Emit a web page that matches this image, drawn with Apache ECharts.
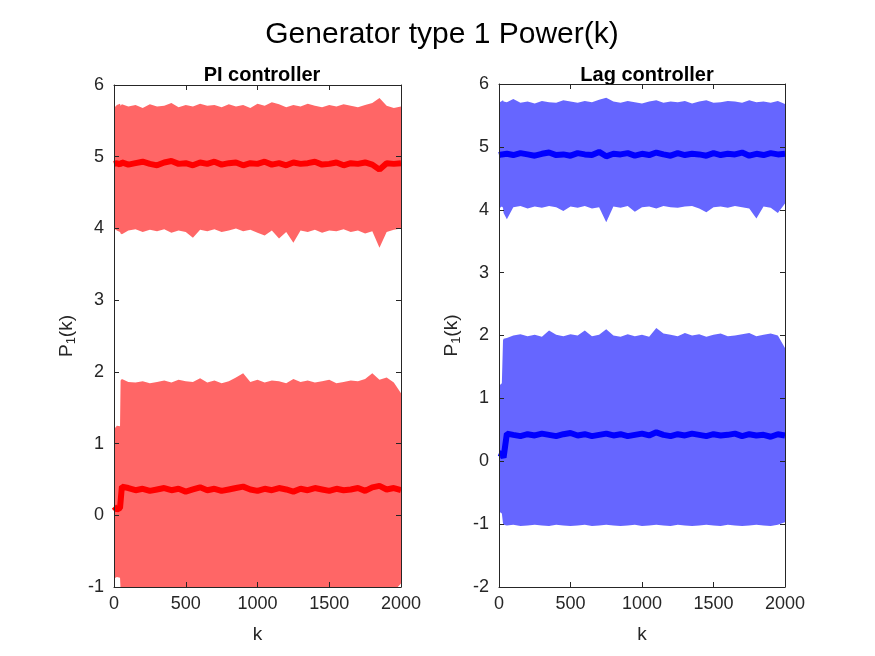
<!DOCTYPE html>
<html>
<head>
<meta charset="utf-8">
<style>
  html, body { margin: 0; padding: 0; background: #fff; }
  #main { width: 875px; height: 656px; }
</style>
<script src="https://cdn.jsdelivr.net/npm/echarts@6/dist/echarts.min.js"></script>
</head>
<body>
<div id="main"></div>
<script>
// sample positions (k) used for envelopes and mean lines
var kPI  = [0, 20, 42, 46, 55, 100, 150, 200, 250, 300, 350, 400, 450, 500, 550, 600, 650, 700, 750, 800, 850, 900, 950, 1000, 1050, 1100, 1150, 1200, 1250, 1300, 1350, 1400, 1450, 1500, 1550, 1600, 1650, 1700, 1750, 1800, 1850, 1900, 1950, 2000];
var kLag = [0, 20, 28, 32, 55, 100, 150, 200, 250, 300, 350, 400, 450, 500, 550, 600, 650, 700, 750, 800, 850, 900, 950, 1000, 1050, 1100, 1150, 1200, 1250, 1300, 1350, 1400, 1450, 1500, 1550, 1600, 1650, 1700, 1750, 1800, 1850, 1900, 1950, 2000];

// PI controller: envelope of the noisy signals + mean lines
var piUpperHi = [5.68, 5.72, 5.74, 5.71, 5.73, 5.70, 5.72, 5.68, 5.73, 5.70, 5.71, 5.75, 5.69, 5.72, 5.70, 5.74, 5.71, 5.72, 5.69, 5.73, 5.70, 5.72, 5.68, 5.74, 5.71, 5.76, 5.73, 5.69, 5.72, 5.70, 5.74, 5.71, 5.69, 5.72, 5.70, 5.73, 5.71, 5.69, 5.72, 5.75, 5.82, 5.71, 5.68, 5.70];
var piUpperLo = [4.00, 3.97, 3.95, 3.93, 3.92, 3.97, 3.99, 3.95, 3.98, 3.96, 3.99, 3.94, 3.97, 3.95, 3.87, 3.98, 3.96, 3.99, 3.95, 3.97, 4.00, 3.96, 3.98, 3.94, 3.90, 3.97, 3.86, 3.95, 3.80, 3.97, 3.95, 3.98, 3.94, 3.97, 3.96, 3.99, 3.95, 3.97, 3.93, 3.96, 3.73, 3.95, 3.98, 4.00];
var piUpperMean = [4.90, 4.91, 4.89, 4.90, 4.92, 4.89, 4.91, 4.93, 4.90, 4.88, 4.92, 4.94, 4.90, 4.91, 4.88, 4.92, 4.90, 4.93, 4.89, 4.91, 4.92, 4.88, 4.91, 4.90, 4.93, 4.89, 4.91, 4.88, 4.92, 4.90, 4.91, 4.93, 4.89, 4.90, 4.92, 4.88, 4.91, 4.90, 4.92, 4.89, 4.82, 4.91, 4.90, 4.91];
var piLowerHi = [1.20, 1.25, 1.24, 1.88, 1.90, 1.86, 1.85, 1.87, 1.84, 1.86, 1.88, 1.85, 1.89, 1.87, 1.86, 1.91, 1.85, 1.88, 1.84, 1.87, 1.92, 1.98, 1.86, 1.89, 1.85, 1.88, 1.87, 1.84, 1.90, 1.86, 1.88, 1.85, 1.87, 1.89, 1.84, 1.86, 1.88, 1.87, 1.90, 1.98, 1.89, 1.92, 1.85, 1.70];
var piLowerLo = [-0.88, -0.86, -0.87, -1.04, -1.05, -1.03, -1.06, -1.04, -1.05, -1.03, -1.05, -1.06, -1.04, -1.03, -1.05, -1.04, -1.06, -1.05, -1.03, -1.04, -1.06, -1.05, -1.04, -1.03, -1.05, -1.06, -1.04, -1.05, -1.03, -1.04, -1.06, -1.05, -1.04, -1.03, -1.05, -1.04, -1.06, -1.05, -1.04, -1.03, -1.05, -1.04, -1.06, -0.95];
var piLowerMean = [0.12, 0.08, 0.10, 0.11, 0.40, 0.38, 0.35, 0.37, 0.34, 0.36, 0.38, 0.35, 0.37, 0.33, 0.36, 0.39, 0.35, 0.37, 0.34, 0.36, 0.38, 0.40, 0.36, 0.34, 0.37, 0.35, 0.38, 0.36, 0.33, 0.37, 0.35, 0.38, 0.36, 0.34, 0.37, 0.35, 0.36, 0.38, 0.34, 0.39, 0.41, 0.36, 0.38, 0.35];

// Lag controller
var lagUpperHi = [5.70, 5.73, 5.74, 5.72, 5.71, 5.76, 5.70, 5.72, 5.69, 5.73, 5.71, 5.70, 5.74, 5.72, 5.70, 5.73, 5.71, 5.75, 5.78, 5.72, 5.70, 5.73, 5.71, 5.69, 5.72, 5.74, 5.70, 5.72, 5.71, 5.73, 5.69, 5.72, 5.74, 5.70, 5.71, 5.73, 5.72, 5.70, 5.74, 5.71, 5.72, 5.70, 5.73, 5.68];
var lagUpperLo = [4.02, 4.05, 4.03, 3.95, 3.85, 4.04, 4.06, 4.02, 4.05, 4.03, 4.06, 4.04, 3.98, 4.05, 4.03, 4.06, 4.02, 4.04, 3.80, 4.05, 4.03, 4.06, 3.97, 4.04, 4.05, 4.02, 4.06, 4.04, 4.03, 4.05, 4.06, 4.02, 3.96, 4.04, 4.05, 4.03, 4.06, 4.04, 4.02, 3.86, 4.05, 4.03, 3.95, 4.10];
var lagUpperMean = [4.87, 4.88, 4.90, 4.86, 4.89, 4.87, 4.90, 4.88, 4.86, 4.89, 4.91, 4.87, 4.88, 4.86, 4.90, 4.88, 4.87, 4.92, 4.85, 4.89, 4.88, 4.90, 4.86, 4.89, 4.87, 4.91, 4.88, 4.86, 4.90, 4.87, 4.89, 4.88, 4.86, 4.90, 4.87, 4.89, 4.88, 4.91, 4.86, 4.89, 4.87, 4.90, 4.88, 4.89];
var lagLowerHi = [1.20, 1.24, 1.92, 1.95, 1.96, 2.00, 2.02, 1.99, 2.01, 1.98, 2.08, 2.01, 1.99, 2.02, 2.00, 2.08, 1.99, 2.01, 2.10, 2.00, 1.98, 2.02, 1.99, 2.01, 1.98, 2.12, 2.03, 2.01, 1.99, 2.04, 2.00, 2.02, 1.98, 2.01, 2.03, 1.99, 2.00, 2.02, 2.04, 1.99, 2.01, 2.03, 2.00, 1.80];
var lagLowerLo = [-0.80, -0.83, -0.99, -1.01, -1.02, -1.01, -1.03, -1.02, -1.01, -1.02, -1.03, -1.01, -1.02, -1.03, -1.02, -1.01, -1.03, -1.02, -1.01, -1.02, -1.03, -1.02, -1.01, -1.03, -1.02, -1.01, -1.02, -1.03, -1.01, -1.02, -1.03, -1.02, -1.01, -1.02, -1.03, -1.01, -1.02, -1.03, -1.02, -1.01, -1.02, -1.03, -1.01, -0.97];
var lagLowerMean = [0.13, 0.11, 0.12, 0.06, 0.44, 0.42, 0.40, 0.43, 0.41, 0.44, 0.42, 0.40, 0.43, 0.45, 0.41, 0.43, 0.40, 0.42, 0.44, 0.41, 0.43, 0.40, 0.42, 0.44, 0.41, 0.46, 0.42, 0.40, 0.43, 0.41, 0.44, 0.42, 0.40, 0.43, 0.41, 0.42, 0.44, 0.40, 0.43, 0.41, 0.42, 0.39, 0.43, 0.41];

var xTicks = [0, 500, 1000, 1500, 2000];
var piYRange = [-1, 6];
var lagYRange = [-2, 6];

var axisColor = '#262626';
var lightRed = '#ff6666', darkRed = '#ff0000';
var lightBlue = '#6666ff', darkBlue = '#0000ff';
var font = 'Liberation Sans, Arial, sans-serif';

function pairs(ks, vs) {
    var out = [];
    for (var i = 0; i < ks.length; i++) out.push([ks[i], vs[i]]);
    return out;
}

// filled polygon between a low and a high envelope
function band(ks, lo, hi, color, idx) {
    var data = [];
    for (var i = 0; i < ks.length; i++) data.push([ks[i], lo[i], hi[i]]);
    return {
        type: 'custom',
        xAxisIndex: idx, yAxisIndex: idx,
        data: data,
        encode: { x: 0, y: [1, 2] },
        z: 1,
        silent: true,
        renderItem: function (params, api) {
            if (params.dataIndex !== 0) return null;
            var pts = [];
            for (var i = 0; i < ks.length; i++) pts.push(api.coord([ks[i], hi[i]]));
            for (var j = ks.length - 1; j >= 0; j--) pts.push(api.coord([ks[j], lo[j]]));
            var cs = params.coordSys;
            return {
                type: 'polygon',
                shape: { points: pts },
                style: { fill: color },
                clipPath: { type: 'rect', shape: { x: cs.x, y: cs.y, width: cs.width, height: cs.height } }
            };
        }
    };
}

function meanLine(ks, vs, color, idx) {
    return {
        type: 'line',
        xAxisIndex: idx, yAxisIndex: idx,
        data: pairs(ks, vs),
        showSymbol: false,
        silent: true,
        z: 3,
        lineStyle: { color: color, width: 6 },
        itemStyle: { color: color }
    };
}

function xAx(grid, pos, labels) {
    return {
        type: 'value', gridIndex: grid, position: pos,
        min: xTicks[0], max: xTicks[xTicks.length - 1], interval: 500,
        name: labels ? 'k' : '', nameLocation: 'middle', nameGap: 38,
        nameTextStyle: { color: axisColor, fontSize: 19, fontFamily: font },
        axisLine: { show: true, onZero: false, lineStyle: { color: axisColor, width: 1 } },
        axisTick: { show: true, inside: true, length: 5, lineStyle: { color: axisColor } },
        axisLabel: { show: labels, color: axisColor, fontSize: 18, fontFamily: font, margin: 8,
                     formatter: function (v) { return String(v); } },
        splitLine: { show: false },
        z: 10
    };
}

function yAx(grid, pos, range, labels) {
    return {
        type: 'value', gridIndex: grid, position: pos,
        min: range[0], max: range[1], interval: 1,
        name: labels ? '{a|P}{b|1}{a|(k)}' : '',
        nameLocation: 'middle', nameRotate: 90, nameGap: 36,
        nameTextStyle: {
            color: axisColor, fontFamily: font,
            rich: {
                a: { fontSize: 19, color: axisColor, fontFamily: font },
                b: { fontSize: 13, color: axisColor, fontFamily: font, padding: [10, 0, 0, 0] }
            }
        },
        axisLine: { show: true, onZero: false, lineStyle: { color: axisColor, width: 1 } },
        axisTick: { show: true, inside: true, length: 5, lineStyle: { color: axisColor } },
        axisLabel: { show: labels, color: axisColor, fontSize: 18, fontFamily: font, margin: 10,
                     formatter: function (v) { return String(v); } },
        splitLine: { show: false },
        z: 10
    };
}

var option = {
    backgroundColor: '#ffffff',
    animation: false,
    title: [
        { text: 'Generator type 1 Power(k)', left: 437, top: 15, textAlign: 'center',
          textStyle: { fontSize: 30, fontWeight: 'normal', color: '#000', fontFamily: font } },
        { text: 'PI controller', left: 257, top: 60, textAlign: 'center',
          textStyle: { fontSize: 20, fontWeight: 'bold', color: '#000', fontFamily: font } },
        { text: 'Lag controller', left: 642, top: 60, textAlign: 'center',
          textStyle: { fontSize: 20, fontWeight: 'bold', color: '#000', fontFamily: font } }
    ],
    grid: [
        { left: 114, top: 85, width: 287, height: 502 },
        { left: 499, top: 84, width: 286, height: 503 }
    ],
    xAxis: [
        xAx(0, 'bottom', true), xAx(1, 'bottom', true),
        xAx(0, 'top', false), xAx(1, 'top', false)
    ],
    yAxis: [
        yAx(0, 'left', piYRange, true), yAx(1, 'left', lagYRange, true),
        yAx(0, 'right', piYRange, false), yAx(1, 'right', lagYRange, false)
    ],
    series: [
        band(kPI, piUpperLo, piUpperHi, lightRed, 0),
        band(kPI, piLowerLo, piLowerHi, lightRed, 0),
        meanLine(kPI, piUpperMean, darkRed, 0),
        meanLine(kPI, piLowerMean, darkRed, 0),
        band(kLag, lagUpperLo, lagUpperHi, lightBlue, 1),
        band(kLag, lagLowerLo, lagLowerHi, lightBlue, 1),
        meanLine(kLag, lagUpperMean, darkBlue, 1),
        meanLine(kLag, lagLowerMean, darkBlue, 1)
    ]
};

var chart = echarts.init(document.getElementById('main'));
chart.setOption(option);
</script>
</body>
</html>
